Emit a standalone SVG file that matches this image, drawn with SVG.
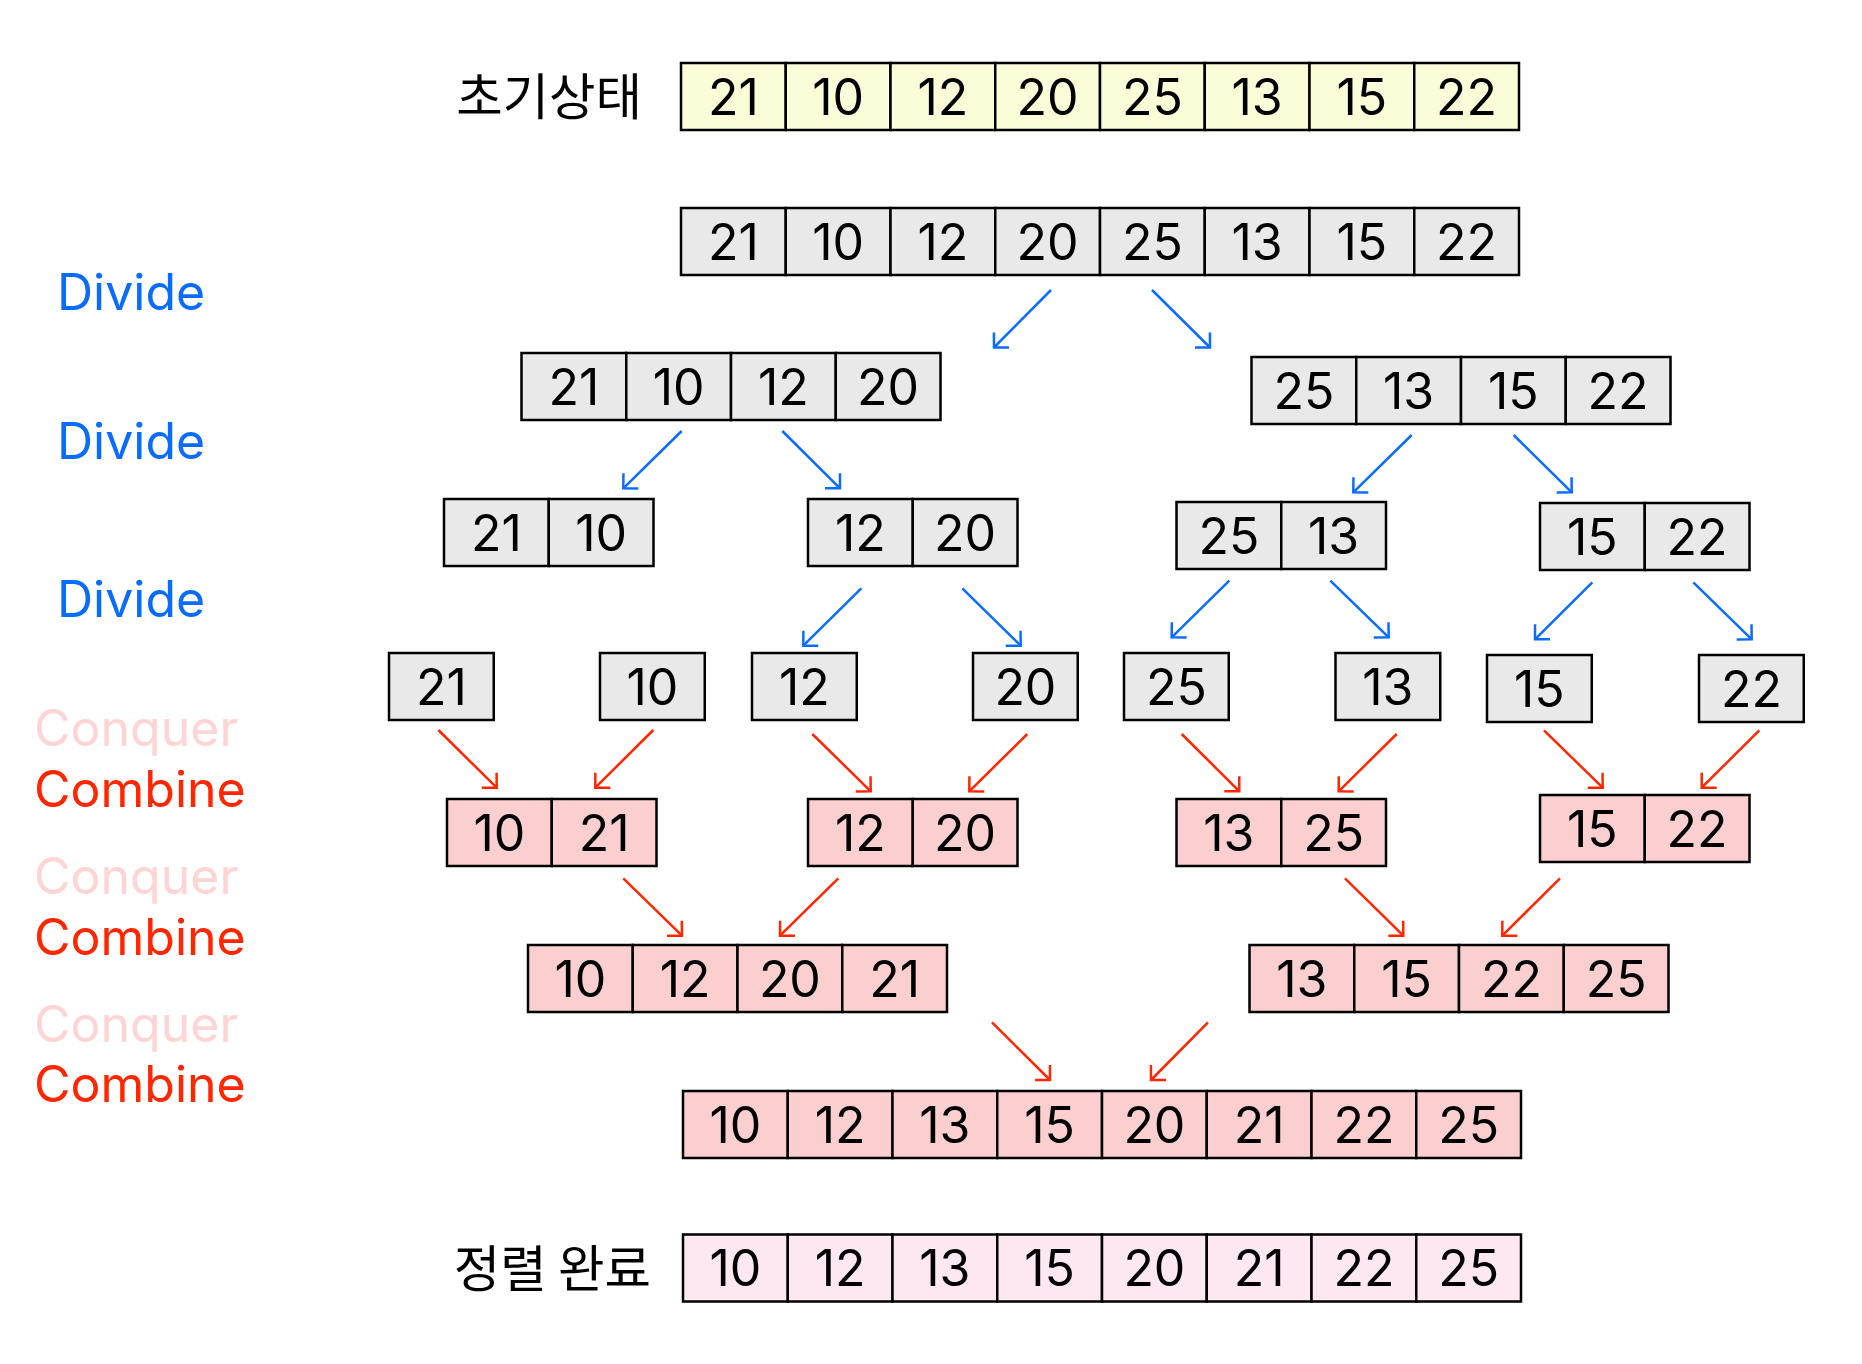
<svg xmlns="http://www.w3.org/2000/svg" width="1862" height="1364" viewBox="0 0 1862 1364">
<style>
.c{stroke:#000;stroke-width:2.5}
.y{fill:#FAFDD8}
.g{fill:#E9E9E9}
.p{fill:#FBCFCF}
.f{fill:#FDE7F1}
.n{font-family:Inter,"Liberation Sans",sans-serif;font-size:50px;fill:#000;text-anchor:middle}
.k{font-family:"Noto Sans CJK KR","Noto Sans",sans-serif;font-size:50.5px;fill:#000;text-anchor:end}
.lbl{font-family:Inter,"Liberation Sans",sans-serif;font-size:50px}
.dv{fill:#0A6CFF}
.cq{fill:#FFD4D4}
.cb{fill:#FF2600}
.ab{fill:none;stroke:#0A6CFF;stroke-width:2.5}
.ar{fill:none;stroke:#FF2600;stroke-width:2.5}
</style>
<defs>
<marker id="mb" markerUnits="userSpaceOnUse" markerWidth="30" markerHeight="30" viewBox="-15 -15 30 30" refX="0" refY="0" orient="auto" overflow="visible">
<path d="M-10.6,-10.6 L0,0 L-10.6,10.6" fill="none" stroke="#0A6CFF" stroke-width="2.5"/>
</marker>
<marker id="mr" markerUnits="userSpaceOnUse" markerWidth="30" markerHeight="30" viewBox="-15 -15 30 30" refX="0" refY="0" orient="auto" overflow="visible">
<path d="M-10.6,-10.6 L0,0 L-10.6,10.6" fill="none" stroke="#FF2600" stroke-width="2.5"/>
</marker>
</defs>
<rect width="1862" height="1364" fill="#fff"/>

<g id="labels">
<text class="k" x="642" y="115">초기상태</text>
<text class="k" x="651" y="1286.5">정렬 완료</text>
<text class="lbl dv" x="57" y="310">Divide</text>
<text class="lbl dv" x="57" y="459.3">Divide</text>
<text class="lbl dv" x="57" y="616.7">Divide</text>
<text class="lbl cq" x="34" y="746">Conquer</text>
<text class="lbl cb" x="34" y="806.7">Combine</text>
<text class="lbl cq" x="34" y="894">Conquer</text>
<text class="lbl cb" x="34" y="955">Combine</text>
<text class="lbl cq" x="34" y="1041.7">Conquer</text>
<text class="lbl cb" x="34" y="1102.3">Combine</text>
</g>

<g id="row1-initial">
<rect class="c y" x="681" y="63" width="104.75" height="67"/>
<rect class="c y" x="785.75" y="63" width="104.75" height="67"/>
<rect class="c y" x="890.5" y="63" width="104.75" height="67"/>
<rect class="c y" x="995.25" y="63" width="104.75" height="67"/>
<rect class="c y" x="1100" y="63" width="104.75" height="67"/>
<rect class="c y" x="1204.75" y="63" width="104.75" height="67"/>
<rect class="c y" x="1309.5" y="63" width="104.75" height="67"/>
<rect class="c y" x="1414.25" y="63" width="104.75" height="67"/>
<text class="n" x="733.4" y="114.7">21</text>
<text class="n" x="838.1" y="114.7">10</text>
<text class="n" x="942.9" y="114.7">12</text>
<text class="n" x="1047.6" y="114.7">20</text>
<text class="n" x="1152.4" y="114.7">25</text>
<text class="n" x="1257.1" y="114.7">13</text>
<text class="n" x="1361.9" y="114.7">15</text>
<text class="n" x="1466.6" y="114.7">22</text>
</g>

<g id="row2-full">
<rect class="c g" x="681" y="208" width="104.75" height="67"/>
<rect class="c g" x="785.75" y="208" width="104.75" height="67"/>
<rect class="c g" x="890.5" y="208" width="104.75" height="67"/>
<rect class="c g" x="995.25" y="208" width="104.75" height="67"/>
<rect class="c g" x="1100" y="208" width="104.75" height="67"/>
<rect class="c g" x="1204.75" y="208" width="104.75" height="67"/>
<rect class="c g" x="1309.5" y="208" width="104.75" height="67"/>
<rect class="c g" x="1414.25" y="208" width="104.75" height="67"/>
<text class="n" x="733.4" y="259.7">21</text>
<text class="n" x="838.1" y="259.7">10</text>
<text class="n" x="942.9" y="259.7">12</text>
<text class="n" x="1047.6" y="259.7">20</text>
<text class="n" x="1152.4" y="259.7">25</text>
<text class="n" x="1257.1" y="259.7">13</text>
<text class="n" x="1361.9" y="259.7">15</text>
<text class="n" x="1466.6" y="259.7">22</text>
</g>

<g id="div-left4">
<rect class="c g" x="521.5" y="353" width="104.75" height="67"/>
<rect class="c g" x="626.25" y="353" width="104.75" height="67"/>
<rect class="c g" x="731" y="353" width="104.75" height="67"/>
<rect class="c g" x="835.75" y="353" width="104.75" height="67"/>
<text class="n" x="573.9" y="404.7">21</text>
<text class="n" x="678.6" y="404.7">10</text>
<text class="n" x="783.4" y="404.7">12</text>
<text class="n" x="888.1" y="404.7">20</text>
</g>

<g id="div-right4">
<rect class="c g" x="1251.5" y="357" width="104.75" height="67"/>
<rect class="c g" x="1356.25" y="357" width="104.75" height="67"/>
<rect class="c g" x="1461" y="357" width="104.75" height="67"/>
<rect class="c g" x="1565.75" y="357" width="104.75" height="67"/>
<text class="n" x="1303.9" y="408.7">25</text>
<text class="n" x="1408.6" y="408.7">13</text>
<text class="n" x="1513.4" y="408.7">15</text>
<text class="n" x="1618.1" y="408.7">22</text>
</g>

<g id="div-21-10">
<rect class="c g" x="444" y="499" width="104.75" height="67"/>
<rect class="c g" x="548.75" y="499" width="104.75" height="67"/>
<text class="n" x="496.4" y="550.7">21</text>
<text class="n" x="601.1" y="550.7">10</text>
</g>
<g id="div-12-20">
<rect class="c g" x="808" y="499" width="104.75" height="67"/>
<rect class="c g" x="912.75" y="499" width="104.75" height="67"/>
<text class="n" x="860.4" y="550.7">12</text>
<text class="n" x="965.1" y="550.7">20</text>
</g>
<g id="div-25-13">
<rect class="c g" x="1176.5" y="502" width="104.75" height="67"/>
<rect class="c g" x="1281.25" y="502" width="104.75" height="67"/>
<text class="n" x="1228.9" y="553.7">25</text>
<text class="n" x="1333.6" y="553.7">13</text>
</g>
<g id="div-15-22">
<rect class="c g" x="1540" y="503" width="104.75" height="67"/>
<rect class="c g" x="1644.75" y="503" width="104.75" height="67"/>
<text class="n" x="1592.4" y="554.7">15</text>
<text class="n" x="1697.1" y="554.7">22</text>
</g>

<g id="single-21"><rect class="c g" x="389" y="653" width="104.75" height="67"/><text class="n" x="441.4" y="704.7">21</text></g>
<g id="single-10"><rect class="c g" x="600" y="653" width="104.75" height="67"/><text class="n" x="652.4" y="704.7">10</text></g>
<g id="single-12"><rect class="c g" x="752" y="653" width="104.75" height="67"/><text class="n" x="804.4" y="704.7">12</text></g>
<g id="single-20"><rect class="c g" x="973" y="653" width="104.75" height="67"/><text class="n" x="1025.4" y="704.7">20</text></g>
<g id="single-25"><rect class="c g" x="1124" y="653" width="104.75" height="67"/><text class="n" x="1176.4" y="704.7">25</text></g>
<g id="single-13"><rect class="c g" x="1335.5" y="653" width="104.75" height="67"/><text class="n" x="1387.9" y="704.7">13</text></g>
<g id="single-15"><rect class="c g" x="1487" y="655" width="104.75" height="67"/><text class="n" x="1539.4" y="706.7">15</text></g>
<g id="single-22"><rect class="c g" x="1699" y="655" width="104.75" height="67"/><text class="n" x="1751.4" y="706.7">22</text></g>

<g id="comb-10-21">
<rect class="c p" x="447" y="799" width="104.75" height="67"/>
<rect class="c p" x="551.75" y="799" width="104.75" height="67"/>
<text class="n" x="499.4" y="850.7">10</text>
<text class="n" x="604.1" y="850.7">21</text>
</g>
<g id="comb-12-20">
<rect class="c p" x="808" y="799" width="104.75" height="67"/>
<rect class="c p" x="912.75" y="799" width="104.75" height="67"/>
<text class="n" x="860.4" y="850.7">12</text>
<text class="n" x="965.1" y="850.7">20</text>
</g>
<g id="comb-13-25">
<rect class="c p" x="1176.5" y="799" width="104.75" height="67"/>
<rect class="c p" x="1281.25" y="799" width="104.75" height="67"/>
<text class="n" x="1228.9" y="850.7">13</text>
<text class="n" x="1333.6" y="850.7">25</text>
</g>
<g id="comb-15-22">
<rect class="c p" x="1540" y="795" width="104.75" height="67"/>
<rect class="c p" x="1644.75" y="795" width="104.75" height="67"/>
<text class="n" x="1592.4" y="846.7">15</text>
<text class="n" x="1697.1" y="846.7">22</text>
</g>

<g id="comb-left4">
<rect class="c p" x="528" y="945" width="104.75" height="67"/>
<rect class="c p" x="632.75" y="945" width="104.75" height="67"/>
<rect class="c p" x="737.5" y="945" width="104.75" height="67"/>
<rect class="c p" x="842.25" y="945" width="104.75" height="67"/>
<text class="n" x="580.4" y="996.7">10</text>
<text class="n" x="685.1" y="996.7">12</text>
<text class="n" x="789.9" y="996.7">20</text>
<text class="n" x="894.6" y="996.7">21</text>
</g>
<g id="comb-right4">
<rect class="c p" x="1249.5" y="945" width="104.75" height="67"/>
<rect class="c p" x="1354.25" y="945" width="104.75" height="67"/>
<rect class="c p" x="1459" y="945" width="104.75" height="67"/>
<rect class="c p" x="1563.75" y="945" width="104.75" height="67"/>
<text class="n" x="1301.9" y="996.7">13</text>
<text class="n" x="1406.6" y="996.7">15</text>
<text class="n" x="1511.4" y="996.7">22</text>
<text class="n" x="1616.1" y="996.7">25</text>
</g>

<g id="comb-full">
<rect class="c p" x="683" y="1091" width="104.75" height="67"/>
<rect class="c p" x="787.75" y="1091" width="104.75" height="67"/>
<rect class="c p" x="892.5" y="1091" width="104.75" height="67"/>
<rect class="c p" x="997.25" y="1091" width="104.75" height="67"/>
<rect class="c p" x="1102" y="1091" width="104.75" height="67"/>
<rect class="c p" x="1206.75" y="1091" width="104.75" height="67"/>
<rect class="c p" x="1311.5" y="1091" width="104.75" height="67"/>
<rect class="c p" x="1416.25" y="1091" width="104.75" height="67"/>
<text class="n" x="735.4" y="1142.7">10</text>
<text class="n" x="840.1" y="1142.7">12</text>
<text class="n" x="944.9" y="1142.7">13</text>
<text class="n" x="1049.6" y="1142.7">15</text>
<text class="n" x="1154.4" y="1142.7">20</text>
<text class="n" x="1259.1" y="1142.7">21</text>
<text class="n" x="1363.9" y="1142.7">22</text>
<text class="n" x="1468.6" y="1142.7">25</text>
</g>

<g id="sorted">
<rect class="c f" x="683" y="1234.5" width="104.75" height="67"/>
<rect class="c f" x="787.75" y="1234.5" width="104.75" height="67"/>
<rect class="c f" x="892.5" y="1234.5" width="104.75" height="67"/>
<rect class="c f" x="997.25" y="1234.5" width="104.75" height="67"/>
<rect class="c f" x="1102" y="1234.5" width="104.75" height="67"/>
<rect class="c f" x="1206.75" y="1234.5" width="104.75" height="67"/>
<rect class="c f" x="1311.5" y="1234.5" width="104.75" height="67"/>
<rect class="c f" x="1416.25" y="1234.5" width="104.75" height="67"/>
<text class="n" x="735.4" y="1286.2">10</text>
<text class="n" x="840.1" y="1286.2">12</text>
<text class="n" x="944.9" y="1286.2">13</text>
<text class="n" x="1049.6" y="1286.2">15</text>
<text class="n" x="1154.4" y="1286.2">20</text>
<text class="n" x="1259.1" y="1286.2">21</text>
<text class="n" x="1363.9" y="1286.2">22</text>
<text class="n" x="1468.6" y="1286.2">25</text>
</g>

<g id="connectors">
<line class="ab" marker-end="url(#mb)" x1="1051" y1="290" x2="994" y2="347.5"/>
<line class="ab" marker-end="url(#mb)" x1="1152" y1="290" x2="1210" y2="347.5"/>
<line class="ab" marker-end="url(#mb)" x1="681.7" y1="431" x2="623.3" y2="488.3"/>
<line class="ab" marker-end="url(#mb)" x1="782.3" y1="431" x2="840" y2="488.3"/>
<line class="ab" marker-end="url(#mb)" x1="1411.7" y1="435" x2="1353.3" y2="492.3"/>
<line class="ab" marker-end="url(#mb)" x1="1513.6" y1="435" x2="1571.7" y2="492.3"/>
<line class="ab" marker-end="url(#mb)" x1="861.3" y1="588.3" x2="803.3" y2="645.7"/>
<line class="ab" marker-end="url(#mb)" x1="962.3" y1="588.3" x2="1020.7" y2="645.7"/>
<line class="ab" marker-end="url(#mb)" x1="1229.3" y1="580.7" x2="1171.7" y2="637.3"/>
<line class="ab" marker-end="url(#mb)" x1="1330.3" y1="580.7" x2="1388.7" y2="637.3"/>
<line class="ab" marker-end="url(#mb)" x1="1592.3" y1="582.3" x2="1535" y2="639.3"/>
<line class="ab" marker-end="url(#mb)" x1="1693.3" y1="582.3" x2="1751.7" y2="639.3"/>
<line class="ar" marker-end="url(#mr)" x1="438.3" y1="730" x2="496.7" y2="787.7"/>
<line class="ar" marker-end="url(#mr)" x1="653.3" y1="730" x2="595.3" y2="787.7"/>
<line class="ar" marker-end="url(#mr)" x1="812.3" y1="734" x2="870.7" y2="791.3"/>
<line class="ar" marker-end="url(#mr)" x1="1027.3" y1="734" x2="969.3" y2="791.3"/>
<line class="ar" marker-end="url(#mr)" x1="1181.7" y1="734" x2="1239.3" y2="791.3"/>
<line class="ar" marker-end="url(#mr)" x1="1396.7" y1="734" x2="1338.7" y2="791.3"/>
<line class="ar" marker-end="url(#mr)" x1="1544" y1="730.3" x2="1602.7" y2="787.7"/>
<line class="ar" marker-end="url(#mr)" x1="1759.3" y1="730.3" x2="1701.7" y2="787.7"/>
<line class="ar" marker-end="url(#mr)" x1="623.3" y1="878.3" x2="682" y2="935.7"/>
<line class="ar" marker-end="url(#mr)" x1="838.3" y1="878.3" x2="780" y2="935.7"/>
<line class="ar" marker-end="url(#mr)" x1="1345" y1="878.3" x2="1403.3" y2="935.7"/>
<line class="ar" marker-end="url(#mr)" x1="1560" y1="878.3" x2="1502.3" y2="935.7"/>
<line class="ar" marker-end="url(#mr)" x1="992" y1="1022.3" x2="1050" y2="1080"/>
<line class="ar" marker-end="url(#mr)" x1="1208" y1="1022.3" x2="1151" y2="1080"/>
</g>
</svg>
